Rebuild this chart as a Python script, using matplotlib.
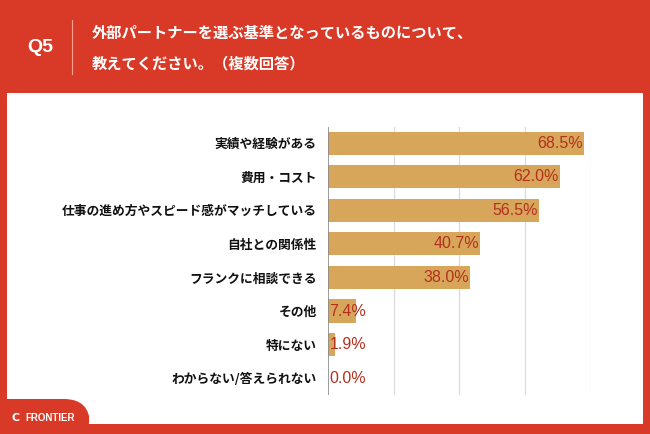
import matplotlib
matplotlib.use("Agg")
import matplotlib.pyplot as plt
from matplotlib.patches import Rectangle, FancyBboxPatch
from matplotlib.lines import Line2D

plt.rcParams['font.family'] = ['Noto Sans CJK JP', 'DejaVu Sans']

categories = ["実績や経験がある", "費用・コスト", "仕事の進め方やスピード感がマッチしている",
              "自社との関係性", "フランクに相談できる", "その他", "特にない", "わからない/答えられない"]
values = [68.5, 62.0, 56.5, 40.7, 38.0, 7.4, 1.9, 0.0]
gridticks = [17.5, 35, 52.5, 70]
title_q = "Q5"
title_lines = ["外部パートナーを選ぶ基準となっているものについて、", "教えてください。（複数回答）"]
brand = "FRONTIER"

RED = "#D83A27"
BAR = "#D8A65A"
LBL = "#B3301E"

W, H = 650, 434
fig = plt.figure(figsize=(W / 100, H / 100), dpi=100)
fig.patch.set_facecolor(RED)

def fx(px):
    return px / W

def fy(py):
    return 1 - py / H

# white panel
fig.add_artist(Rectangle((fx(7), fy(424)), fx(643) - fx(7), fy(93) - fy(424),
                         transform=fig.transFigure, facecolor="white", edgecolor="none", zorder=-2))
# bottom-left red tab with rounded corner
fig.add_artist(FancyBboxPatch((fx(-20), fy(440)), fx(110), fy(399) - fy(440),
                              boxstyle="round,pad=0,rounding_size=0.04",
                              transform=fig.transFigure, facecolor=RED, edgecolor="none", zorder=-1,
                              mutation_aspect=W / H))

# header
fig.text(fx(40), fy(48), title_q, color="white", fontsize=14, fontweight="bold",
         ha="center", va="center", family=["Liberation Sans", "DejaVu Sans"])
fig.add_artist(Line2D([fx(72), fx(72)], [fy(20), fy(74)], transform=fig.transFigure,
                      color="#F0A090", lw=0.8))
fig.text(fx(92), fy(33), title_lines[0], color="white", fontsize=11, fontweight="bold",
         ha="left", va="center")
fig.text(fx(92), fy(63), title_lines[1], color="white", fontsize=11, fontweight="bold",
         ha="left", va="center")
fig.text(fx(25), fy(418), brand, color="white", fontsize=7, fontweight="bold",
         ha="left", va="center", family=["Liberation Sans", "DejaVu Sans"])
fig.text(fx(16), fy(418), "C", color="white", fontsize=8, fontweight="bold",
         ha="center", va="center", family=["DejaVu Sans"])

ax = fig.add_axes([fx(328), fy(395), fx(590) - fx(328), fy(127) - fy(395)])
ax.set_zorder(2)
ax.set_facecolor("none")
ypos = list(range(len(categories)))
ax.barh(ypos, values, height=0.69, color=BAR, edgecolor="none", zorder=3)
ax.set_xlim(0, 70)
ax.set_ylim(len(categories) - 0.5, -0.48)
for g in gridticks:
    ax.axvline(g, color="#DADADA", lw=0.9, zorder=1)
ax.axvline(0, color="#8A8A8A", lw=1.2, zorder=4)
for s in ax.spines.values():
    s.set_visible(False)
ax.set_xticks([])
ax.set_yticks(ypos)
ax.set_yticklabels(categories, fontsize=9.2, fontweight="bold", color="#111111")
ax.tick_params(axis="y", length=0, pad=8)

for y, v in zip(ypos, values):
    txt = f"{v:.1f}%"
    if v >= 15:
        ax.text(v - 0.4, y, txt, ha="right", va="center", color=LBL, fontsize=11.5,
                zorder=5, family=["Liberation Sans", "DejaVu Sans"])
    else:
        ax.text(0.4, y, txt, ha="left", va="center", color=LBL, fontsize=11.5,
                zorder=5, family=["Liberation Sans", "DejaVu Sans"])

fig.savefig("out.png", dpi=100, facecolor=fig.get_facecolor())
